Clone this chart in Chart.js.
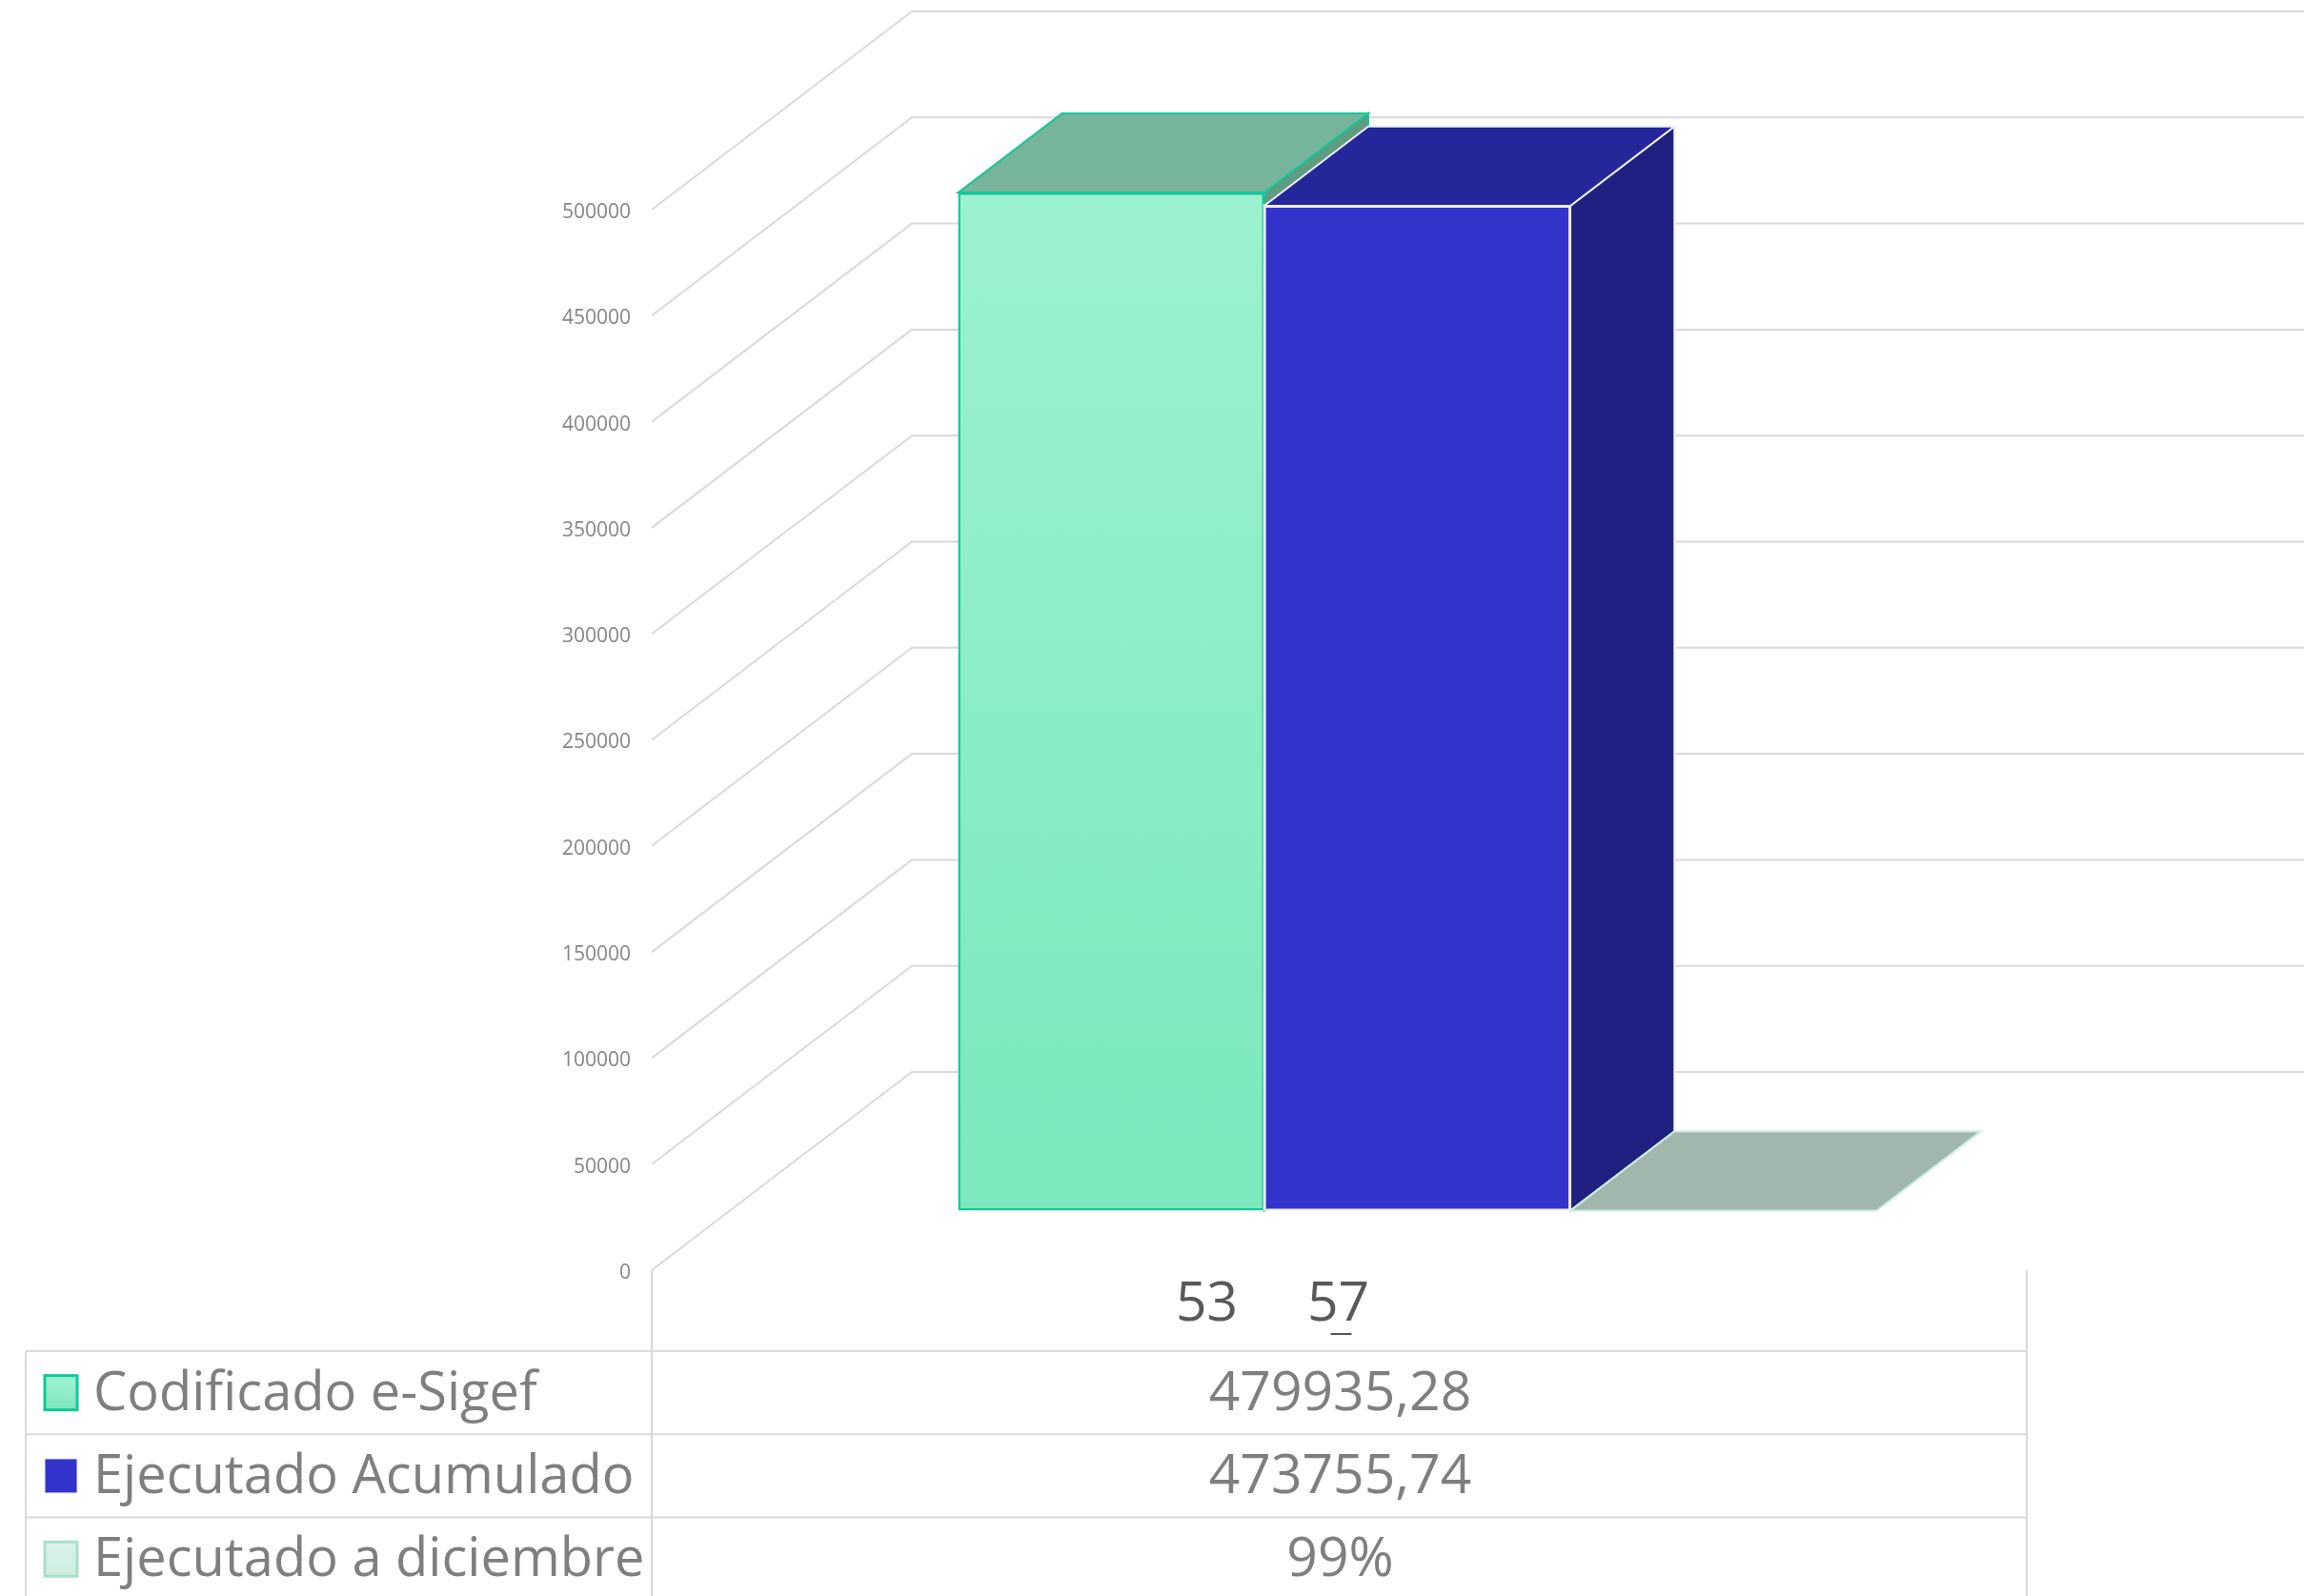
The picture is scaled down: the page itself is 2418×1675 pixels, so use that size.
<!DOCTYPE html>
<html><head><meta charset="utf-8">
<style>html,body{margin:0;padding:0;background:#fff}canvas{display:block}</style>
<script src="https://cdn.jsdelivr.net/npm/chart.js@4"></script>
</head><body>
<canvas id="c" width="2418" height="1675"></canvas>
<script>
const categories = ['53 57'];
const categoryParts = ['53', '57'];
const seriesNames = ['Codificado e-Sigef', 'Ejecutado Acumulado', 'Ejecutado a diciembre'];
const codificado = [479935.28];
const acumulado = [473755.74];
const diciembre = [0.99];
const tableValues = ['479935,28', '473755,74', '99%'];

const FONT = '"Open Sans", sans-serif';
const wall = {dx: 273, dy: 208};          // full floor depth in pixels
const gapFrac = 0.30, depthFrac = 0.40;   // bar placement inside the depth
const GRID = '#d9d9d9';
const faces = [
  {top:'#76b49b', side:'#5f9c82', stroke:'#0fc999', topStroke:'#0fc999'},
  {top:'#25269a', side:'#1f2080', stroke:'#eeeeff', topStroke:'#eeeeff'},
  {top:'#a1b6ac', side:'#a1b6ac', stroke:'#c8eedd', topStroke:'#c8eedd'}
];
const swatches = [
  {c1:'#9ff3d1', c2:'#7fe6bd', b:'#0fc999', lw:3},
  {c1:'#3333cc', c2:'#3333cc', b:'#eeeeff', lw:1},
  {c1:'#dcf1e8', c2:'#cdeee0', b:'#a8e0cb', lw:3}
];

function poly(ctx, pts, fill, stroke, lw){
  ctx.beginPath();
  pts.forEach((p,i)=> i?ctx.lineTo(p[0],p[1]):ctx.moveTo(p[0],p[1]));
  ctx.closePath();
  if(fill){ctx.fillStyle=fill;ctx.fill();}
  if(stroke){ctx.strokeStyle=stroke;ctx.lineWidth=lw||2;ctx.stroke();}
}
function line(ctx,x1,y1,x2,y2,col,lw){
  ctx.beginPath();ctx.moveTo(x1,y1);ctx.lineTo(x2,y2);
  ctx.strokeStyle=col;ctx.lineWidth=lw||2;ctx.stroke();
}

const plugin3d = {
  id:'plugin3d',
  beforeDatasetsDraw(chart){
    const {ctx, scales:{y}, chartArea:a} = chart;
    // walls: every gridline comes from the y scale's own ticks
    ctx.save();
    ctx.lineJoin='round';
    y.ticks.forEach((t,i)=>{
      const py=y.getPixelForTick(i);
      ctx.beginPath();
      ctx.moveTo(a.left,py);
      ctx.lineTo(a.left+wall.dx,py-wall.dy);
      ctx.lineTo(chart.width,py-wall.dy);
      ctx.strokeStyle=GRID;ctx.lineWidth=2;ctx.stroke();
    });
    ctx.restore();
    // bars: shift front plane to their slot in the depth
    ctx.save();
    ctx.translate(wall.dx*gapFrac, -wall.dy*gapFrac);
    const bx=wall.dx*depthFrac, by=wall.dy*depthFrac;
    chart.data.datasets.forEach((ds,i)=>{
      const el=chart.getDatasetMeta(i).data[0];
      const l=el.x-el.width/2, r=el.x+el.width/2, t=el.y, b=el.base, f=faces[i];
      if(b-t>4){
        poly(ctx,[[r,t],[r+bx,t-by],[r+bx,b-by],[r,b]],f.side,f.stroke,2);
      }
      poly(ctx,[[l,t],[r,t],[r+bx,t-by],[l+bx,t-by]],f.top,f.topStroke,2);
    });
  },
  afterDatasetsDraw(chart){
    const ctx=chart.ctx;
    // the blue bar's light edge sits over the green bar's right edge
    const el=chart.getDatasetMeta(1).data[0];
    const l=el.x-el.width/2;
    line(ctx,l,el.y-2,l,el.base,faces[1].stroke,2);
    ctx.restore();
    drawTable(chart);
  }
};

function drawTable(chart){
  const ctx=chart.ctx, a=chart.chartArea;
  const tableL=27, tableR=a.right, rowTop=1418, rowH=87.3, H=chart.height;
  ctx.save();
  line(ctx,a.left,a.bottom,a.left,H,GRID);
  line(ctx,tableR,a.bottom,tableR,H,GRID);
  line(ctx,tableL,rowTop,tableL,H,GRID);
  for(let i=0;i<3;i++){
    const y=rowTop+i*rowH;
    line(ctx,tableL,y,tableR,y,GRID);
  }
  const cx=(a.left+a.right)/2;
  ctx.textBaseline='middle';
  // category label
  ctx.font='57px '+FONT; ctx.fillStyle='#595959'; ctx.textAlign='center';
  ctx.fillText(categoryParts[0],cx-139,1370);
  ctx.fillText(categoryParts[1],cx-1,1370);
  line(ctx,cx-9,1400,cx+13,1400,'#595959',2);
  // rows
  seriesNames.forEach((name,i)=>{
    const y=rowTop+i*rowH, mid=y+rowH/2, s=swatches[i];
    const sy=mid-18, sx=47;
    const g=ctx.createLinearGradient(0,sy,0,sy+36);
    g.addColorStop(0,s.c1);g.addColorStop(1,s.c2);
    ctx.fillStyle=g;ctx.fillRect(sx,sy,34,36);
    ctx.strokeStyle=s.b;ctx.lineWidth=s.lw;ctx.strokeRect(sx,sy,34,36);
    ctx.fillStyle='#7f7f7f';
    ctx.font='56px '+FONT;
    ctx.textAlign='left';
    ctx.fillText(chart.data.datasets[i].label,98,mid+2);
    ctx.font='57px '+FONT;
    ctx.textAlign='center';
    ctx.fillText(tableValues[i],cx+1,mid+2);
  });
  ctx.restore();
}

function greenGrad(c){
  const a=c.chart.chartArea;
  if(!a) return '#9ff3d1';
  const g=c.chart.ctx.createLinearGradient(0,a.top-60,0,a.bottom-60);
  g.addColorStop(0,'#9ff3d1');g.addColorStop(1,'#7ce8bc');
  return g;
}

new Chart(document.getElementById('c'),{
  type:'bar',
  data:{labels:categories,datasets:[
    {label:seriesNames[0],data:codificado,backgroundColor:greenGrad,borderColor:'#0fc999',borderWidth:2.5,borderSkipped:false,clip:false},
    {label:seriesNames[1],data:acumulado,backgroundColor:'#3333cc',borderColor:'#eeeeff',borderWidth:2,borderSkipped:false,clip:false},
    {label:seriesNames[2],data:diciembre,backgroundColor:'#a1b6ac',borderColor:'#c8eedd',borderWidth:2,borderSkipped:false,clip:false}
  ]},
  options:{
    responsive:false,animation:false,devicePixelRatio:1,
    layout:{padding:{top:220,right:291,left:0,bottom:0}},
    datasets:{bar:{categoryPercentage:0.668,barPercentage:1}},
    plugins:{legend:{display:false},title:{display:false},tooltip:{enabled:false}},
    scales:{
      y:{min:0,max:500000,
        afterFit(s){s.width=684;},
        border:{display:false},
        grid:{display:false,drawTicks:false},
        ticks:{stepSize:50000,padding:22,labelOffset:3,color:'#858585',font:{family:'"Open Sans", sans-serif',size:21},
          callback:v=>String(v)}
      },
      x:{
        afterFit(s){s.height=342;},
        border:{display:false},
        grid:{display:false,drawTicks:false},
        ticks:{display:false}
      }
    }
  },
  plugins:[plugin3d]
});
</script>
</body></html>
